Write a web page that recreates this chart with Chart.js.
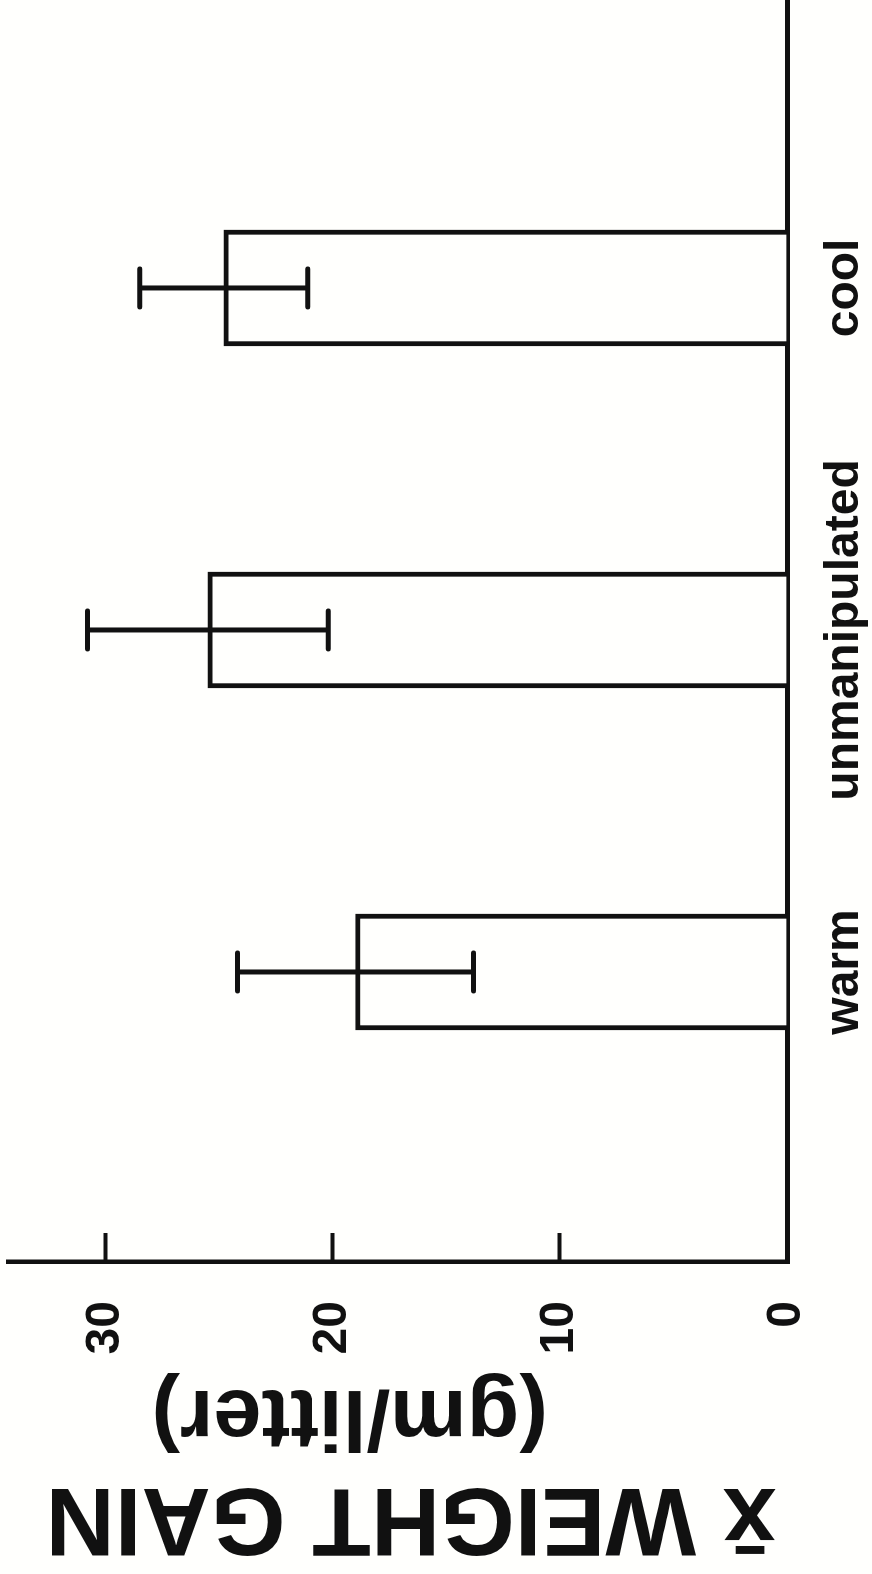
<!DOCTYPE html>
<html>
<head>
<meta charset="utf-8">
<script src="https://cdn.jsdelivr.net/npm/chart.js@4.4.1/dist/chart.umd.min.js"></script>
<style>
  html, body { margin: 0; padding: 0; background: #fffffd; overflow: hidden; }
  #wrap { position: relative; width: 872px; height: 1574px; }
  /* the figure is printed turned a quarter turn, so draw it upright and turn the canvas */
  #grafico {
    position: absolute; left: 0; top: 0;
    width: 1574px; height: 872px;
    transform-origin: 0 0;
    transform: translateY(1574px) rotate(-90deg);
  }
</style>
</head>
<body>
<div id="wrap"><canvas id="grafico" width="1574" height="872"></canvas></div>
<script>
const categories = ['warm', 'unmanipulated', 'cool'];
const meanGain = [19.0, 25.5, 24.8];
const errorGain = [5.2, 5.3, 3.7];
const yTicks = [0, 10, 20, 30];

const ink = '#111';
const fontFamily = '"Liberation Sans", Arial, Helvetica, sans-serif';

const errorBars = {
    id: 'errorBars',
    afterDatasetsDraw(chart) {
        const ctx = chart.ctx;
        const y = chart.scales.y;
        const meta = chart.getDatasetMeta(0);
        ctx.save();
        ctx.strokeStyle = ink;
        ctx.lineWidth = 5;
        ctx.lineCap = 'round';
        meta.data.forEach((bar, i) => {
            const lo = y.getPixelForValue(meanGain[i] - errorGain[i]);
            const hi = y.getPixelForValue(meanGain[i] + errorGain[i]);
            const cap = 19;
            ctx.beginPath();
            ctx.moveTo(bar.x, lo); ctx.lineTo(bar.x, hi);
            ctx.moveTo(bar.x - cap, lo); ctx.lineTo(bar.x + cap, lo);
            ctx.moveTo(bar.x - cap, hi); ctx.lineTo(bar.x + cap, hi);
            ctx.stroke();
        });
        ctx.restore();
    }
};

new Chart(document.getElementById('grafico').getContext('2d'), {
    type: 'bar',
    data: {
        datasets: [{
            data: meanGain.map((v, i) => ({ x: i + 1, y: v })),
            backgroundColor: '#fffffd',
            borderColor: ink,
            borderWidth: 5,
            borderSkipped: 'start',
            barThickness: 116
        }]
    },
    options: {
        responsive: false,
        animation: false,
        devicePixelRatio: 1,
        layout: { padding: { top: 8, right: 0, left: 0, bottom: 0 } },
        plugins: {
            legend: { display: false },
            tooltip: { enabled: false },
            title: {
                display: true,
                position: 'left',
                fullSize: false,
                text: 'x\u0304 WEIGHT GAIN\u00a0',
                color: ink,
                font: { family: fontFamily, size: 96, weight: 'bold', lineHeight: 1 },
                padding: { top: 11, bottom: 0 }
            }
        },
        scales: {
            x: {
                type: 'linear',
                min: 0.152,
                max: 3.842,
                offset: false,
                afterBuildTicks: s => { s.ticks = categories.map((_, i) => ({ value: i + 1 })); },
                afterFit: s => { s.height = 85; s.paddingLeft = 0; s.paddingRight = 0; },
                ticks: {
                    callback: v => categories[v - 1] || '',
                    color: ink,
                    padding: 31,
                    maxRotation: 0,
                    font: { family: fontFamily, size: 48, weight: 'bold', lineHeight: 1.1 }
                },
                grid: { display: false, drawTicks: false },
                border: { display: true, color: ink, width: 5 }
            },
            y: {
                min: 0,
                max: 34.3,
                afterBuildTicks: s => { s.ticks = yTicks.map(v => ({ value: v })); },
                afterFit: s => { s.width = 205; s.paddingTop = 0; s.paddingBottom = 0; },
                ticks: {
                    color: ink,
                    padding: 68,
                    font: { family: fontFamily, size: 48, weight: 'bold' }
                },
                grid: {
                    drawOnChartArea: false,
                    drawTicks: true,
                    tickLength: -29,
                    tickWidth: 4,
                    color: ink
                },
                border: { display: true, color: ink, width: 4.5 },
                title: {
                    display: true,
                    text: '\u00a0\u00a0\u00a0\u00a0(gm/litter)',
                    color: ink,
                    font: { family: fontFamily, size: 86, weight: 'bold', lineHeight: 1 },
                    padding: { top: 9, bottom: 0 }
                }
            }
        }
    },
    plugins: [errorBars]
});
</script>
</body>
</html>
